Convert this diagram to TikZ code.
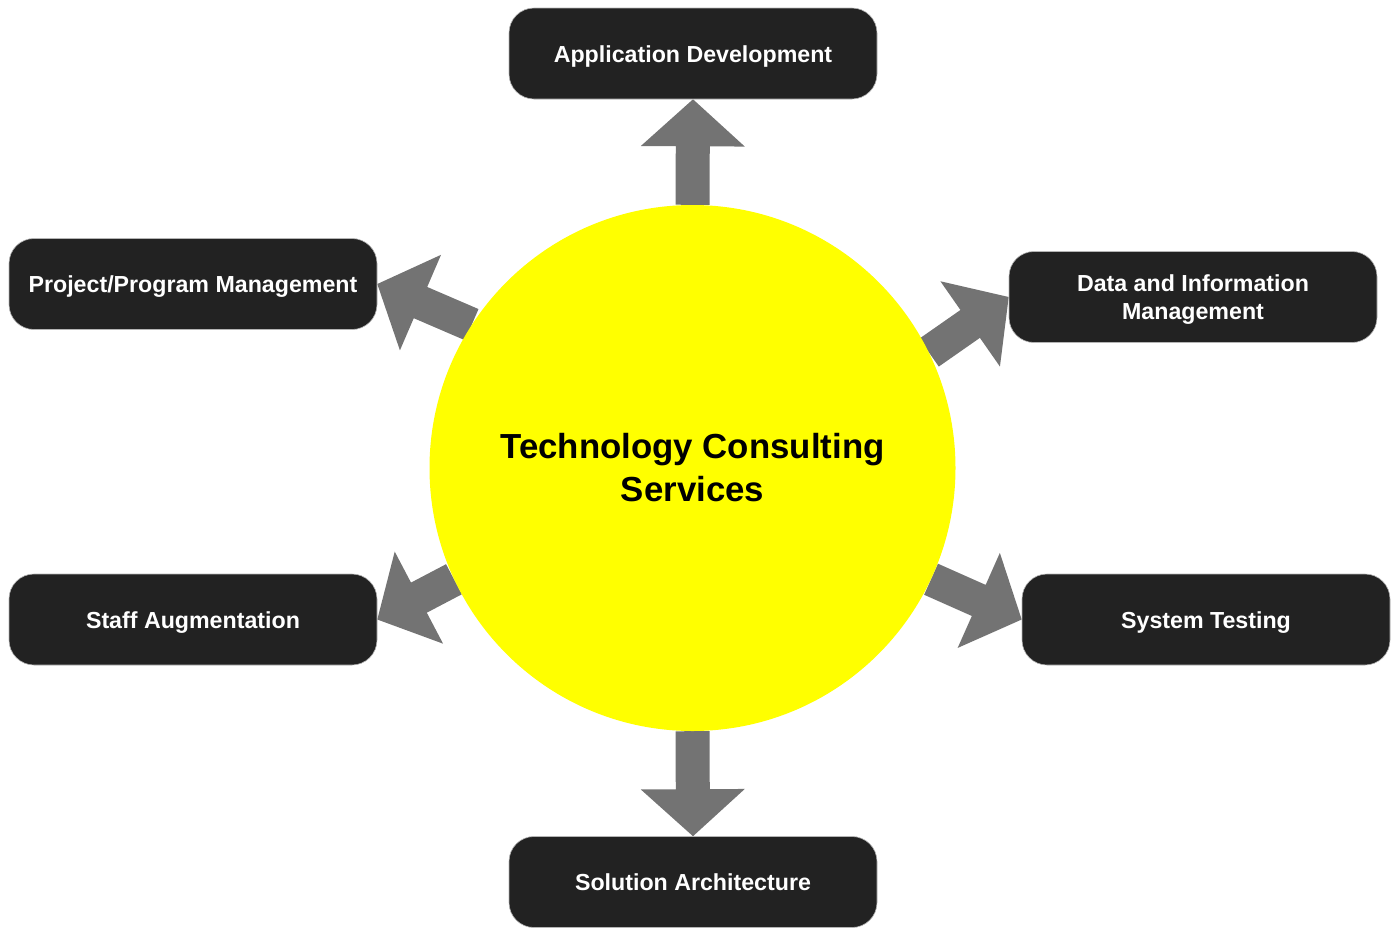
\documentclass[tikz,border=0pt]{standalone}
\usepackage{fontspec}
\setmainfont{Liberation Sans}
\usetikzlibrary{calc,backgrounds}
\definecolor{boxfill}{HTML}{222222}
\definecolor{arrowgray}{HTML}{737373}
\definecolor{hubyellow}{HTML}{FFFF00}
\definecolor{rimgray}{HTML}{B4B4B4}
\newcommand\blockarrow[2]{%
  \coordinate (ba-base) at ($(#1)!47pt!(#2)$);
  \fill[arrowgray] (#1)
    -- ($(ba-base)!52pt!90:(#1)$)
    -- ($(ba-base)!17pt!90:(#1)$)
    -- ($(#2)!17pt!90:(#1)$)
    -- ($(#2)!17pt!-90:(#1)$)
    -- ($(ba-base)!17pt!-90:(#1)$)
    -- ($(ba-base)!52pt!-90:(#1)$)
    -- cycle;}
\begin{document}
\begin{tikzpicture}[x=1pt,y=-1pt,
  svcbox/.style={fill=boxfill, draw=rimgray, line width=0.6pt, rounded corners=25pt,
    minimum width=368pt, minimum height=91pt, inner sep=0pt, text=white, align=center,
    text height=17pt, text depth=0pt,
    font=\fontsize{23.2}{28}\selectfont\bfseries},
  hub/.style={circle, fill=hubyellow, minimum size=526pt, inner sep=0pt, align=center,
    font=\fontsize{34.8}{43}\selectfont\bfseries}]
\useasboundingbox (0,0) rectangle (1398,927);
\node[hub] (c) at (692.5,468) {Technology Consulting\\Services};
\node[svcbox] (app) at (693,53.5) {Application Development};
\node[svcbox] (pm) at (193,284) {Project/Program Management};
\node[svcbox, text height=45pt] (data) at (1193,297) {Data and Information\\Management};
\node[svcbox] (staff) at (193,619.5) {Staff Augmentation};
\node[svcbox] (sys) at (1206,619.5) {System Testing};
\node[svcbox] (sol) at (693,882) {Solution Architecture};
\begin{scope}[on background layer]
  \blockarrow{app.south}{c.90}
  \blockarrow{sol.north}{c.270}
  \blockarrow{pm.east}{c.147}
  \blockarrow{data.west}{c.26.5}
  \blockarrow{staff.east}{c.205}
  \blockarrow{sys.west}{c.335.2}
\end{scope}
\end{tikzpicture}
\end{document}
